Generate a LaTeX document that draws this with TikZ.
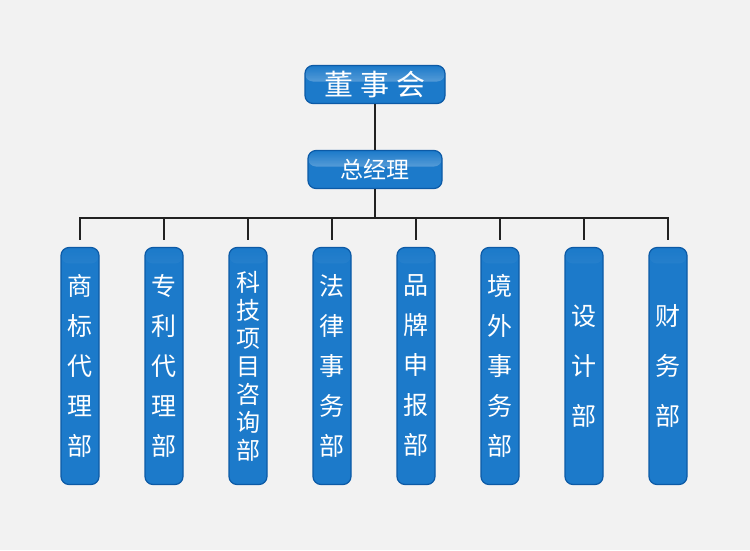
\documentclass[tikz,border=0pt]{standalone}
\usepackage{fontspec}
\newfontfamily\cjk{Noto Sans CJK SC}
\usetikzlibrary{fadings}
\definecolor{bgray}{HTML}{F2F2F2}
\definecolor{boxblue}{HTML}{1C7ACA}
\definecolor{boxedge}{HTML}{0C5AA6}
\definecolor{linkgray}{HTML}{222222}
\tikzset{
  box/.style={rounded corners=8pt, draw=boxedge, line width=1.2pt, fill=boxblue,
    text=white, inner sep=0pt,
    path picture={\fill[white, opacity=.6, path fading=north]
      (path picture bounding box.north west) rectangle
      ([yshift=-16pt]path picture bounding box.north east);}},
  headbox/.style={box, minimum width=140pt, minimum height=38pt},
  deptbox/.style={box, minimum width=38pt, minimum height=237pt, align=center,
    font=\cjk\fontsize{25}{#1}\selectfont},
  link/.style={draw=linkgray, line width=1.8pt}
}
\begin{document}
\begin{tikzpicture}[x=1pt,y=-1pt]
  \fill[bgray] (0,0) rectangle (750,550);
  \useasboundingbox (0,0) rectangle (750,550);
  % top of the tree
  \node[headbox, font=\cjk\fontsize{29}{29}\selectfont] (board) at (375,84.5) {董\hspace{7pt}事\hspace{7pt}会};
  \node[headbox, minimum width=134pt, font=\cjk\fontsize{23}{23}\selectfont] (gm) at (375,169.5) {总经理};
  \coordinate (bus) at (375,218);
  % departments
  \node[deptbox=40pt] (d1) at (80,366) {商\\标\\代\\理\\部};
  \node[deptbox=40pt] (d2) at (164,366) {专\\利\\代\\理\\部};
  \node[deptbox=28pt, font=\cjk\fontsize{24}{28}\selectfont] (d3) at (248,366) {科\\技\\项\\目\\咨\\询\\部};
  \node[deptbox=40pt] (d4) at (332,366) {法\\律\\事\\务\\部};
  \node[deptbox=40pt] (d5) at (416,366) {品\\牌\\申\\报\\部};
  \node[deptbox=40pt] (d6) at (500,366) {境\\外\\事\\务\\部};
  \node[deptbox=50pt] (d7) at (584,366) {设\\计\\部};
  \node[deptbox=50pt] (d8) at (668,366) {财\\务\\部};
  % connectors
  \draw[link] (board) -- (gm);
  \draw[link] (gm) -- (bus);
  \draw[link, shorten <=7pt, shorten >=7pt] (d1.north) |- (bus) -| (d8.north);
  \foreach \i in {2,...,7}
    \draw[link, shorten >=7pt] (bus -| d\i) -- (d\i.north);
\end{tikzpicture}
\end{document}
